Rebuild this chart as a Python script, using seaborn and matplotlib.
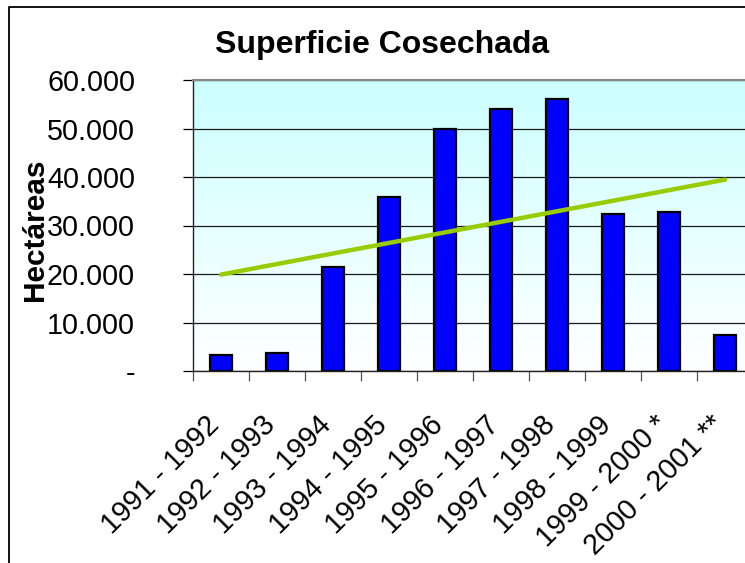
import numpy as np
import pandas as pd
import seaborn as sns
import matplotlib
matplotlib.use("Agg")
import matplotlib.pyplot as plt
from matplotlib.colors import LinearSegmentedColormap
from matplotlib.lines import Line2D
from matplotlib.ticker import FuncFormatter, FixedLocator

# data (hectares)
seasons = ["1991 - 1992", "1992 - 1993", "1993 - 1994", "1994 - 1995", "1995 - 1996",
           "1996 - 1997", "1997 - 1998", "1998 - 1999", "1999 - 2000 *", "2000 - 2001 **"]
hectares = [3300, 3700, 21500, 35800, 49900, 54000, 56100, 32300, 32700, 7400]
yticks = [0, 10000, 20000, 30000, 40000, 50000, 60000]

sns.set_theme(style="white")
plt.rcParams["font.family"] = ["Liberation Sans", "DejaVu Sans"]
plt.rcParams.update({"text.color": "black", "axes.labelcolor": "black",
                     "xtick.color": "black", "ytick.color": "black"})

df = pd.DataFrame({"season": seasons, "ha": hectares})

fig = plt.figure(figsize=(7.45, 5.63), dpi=100)
# plot area runs past the right edge of the picture, like the cropped original
ax = fig.add_axes([193 / 745, 1 - 371 / 563, 560 / 745, 291 / 563])

# background gradient: light cyan at top fading to white
grad = LinearSegmentedColormap.from_list("g", ["#FFFFFF", "#CCFFFF"])
ax.imshow(np.linspace(0, 1, 256).reshape(-1, 1), cmap=grad, origin="lower",
          extent=[0, 1, 0, 1], transform=ax.transAxes, aspect="auto", zorder=0)

sns.barplot(data=df, x="season", y="ha", color="#0000FF", saturation=1,
            edgecolor="black", linewidth=1.6, width=0.4, errorbar=None, ax=ax, zorder=2)

# linear trend line over the seasons
sns.regplot(x=np.arange(len(hectares)), y=np.array(hectares), scatter=False, ci=None,
            truncate=True, ax=ax, line_kws={"color": "#99CC00", "lw": 3.2, "zorder": 3})

ax.set_xlim(-0.5, len(seasons) - 0.5)
ax.set_ylim(0, 60000)
ax.set_yticks(yticks)
ax.yaxis.set_major_formatter(FuncFormatter(
    lambda v, p: "-" if v == 0 else f"{int(v):,}".replace(",", ".")))
ax.grid(axis="y", color="#1a1a1a", lw=0.9, zorder=1)
ax.set_axisbelow(True)

ax.tick_params(axis="y", direction="out", length=7.2, width=0.9, color="black",
               labelcolor="black", pad=34.5, labelsize=20.7, left=True)
ax.xaxis.set_minor_locator(FixedLocator(np.arange(-0.5, len(seasons), 1)))
ax.tick_params(axis="x", which="minor", direction="out", length=7.2, width=0.9,
               color="#555555", bottom=True)
ax.tick_params(axis="x", which="major", length=0, pad=39.6, labelsize=20.7,
               labelcolor="black")
for lab in ax.get_xticklabels():
    lab.set_rotation(45)
    lab.set_ha("right")
    lab.set_va("baseline")
    lab.set_rotation_mode("anchor")

for s in ["left", "bottom"]:
    ax.spines[s].set_color("#222222")
    ax.spines[s].set_linewidth(1.0)
ax.spines["top"].set_color("#888888")
ax.spines["top"].set_linewidth(1.5)
ax.spines["right"].set_visible(False)

ax.set_xlabel("")
ax.set_ylabel("Hectáreas", fontsize=21.5, fontweight="bold", va="center", color="black")
ax.yaxis.set_label_coords((35 - 193) / 560, (371 - 230) / 291)

fig.text(382 / 745, 1 - 45 / 563, "Superficie Cosechada", ha="center", va="center",
         fontsize=23, fontweight="bold", color="black")

# chart frame (only left and top edges visible in the crop)
fig.add_artist(Line2D([9 / 745, 9 / 745, 1.0], [0, 1 - 6.5 / 563, 1 - 6.5 / 563],
                      transform=fig.transFigure, color="black", lw=1.3))

fig.savefig("out.png", dpi=100)
